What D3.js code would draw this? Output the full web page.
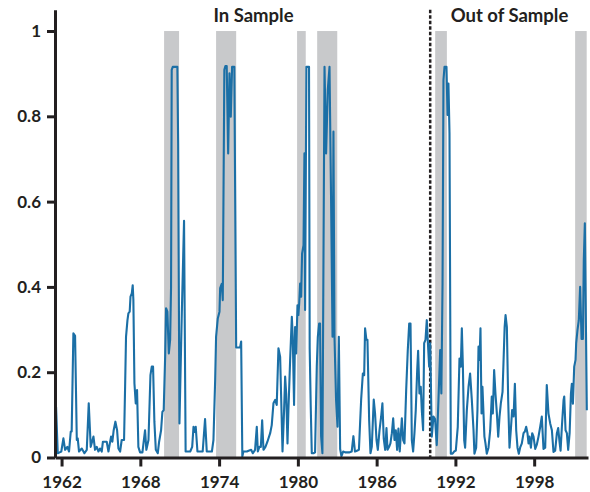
<!DOCTYPE html>
<html>
<head>
<meta charset="utf-8">
<script src="https://cdn.jsdelivr.net/npm/d3@7"></script>
<style>
  html, body { margin: 0; padding: 0; background: #fff; }
  svg { display: block; }
  .tick text { font-family: Lato, "Open Sans", sans-serif; font-weight: 700; font-size: 17px; fill: #231f20; }
</style>
</head>
<body>
<svg id="chart" width="590" height="492"></svg>
<script>
// ---- data ----
const years = [
  1961.58,1961.71,1961.85,1961.98,1962.14,1962.27,1962.44,1962.57,1962.70,1962.77,
  1962.90,1963.03,1963.16,1963.23,1963.33,1963.45,1963.54,1963.74,1963.92,1964.07,
  1964.22,1964.43,1964.55,1964.68,1964.81,1964.93,1965.06,1965.15,1965.26,1965.44,
  1965.57,1965.77,1965.87,1965.97,1966.10,1966.23,1966.33,1966.46,1966.58,1966.76,
  1966.84,1966.91,1967.02,1967.09,1967.19,1967.25,1967.35,1967.42,1967.47,1967.55,
  1967.65,1967.75,1967.85,1967.98,1968.16,1968.36,1968.46,1968.62,1968.77,1968.87,
  1968.97,1969.07,1969.18,1969.33,1969.43,1969.58,1969.68,1969.78,1969.89,1969.96,
  1970.06,1970.17,1970.27,1970.34,1970.39,1970.47,1970.60,1970.72,1970.82,1970.88,
  1970.98,1971.16,1971.33,1971.45,1971.60,1971.80,1971.95,1972.05,1972.13,1972.22,
  1972.35,1972.50,1972.75,1972.93,1973.06,1973.25,1973.45,1973.57,1973.70,1973.77,
  1973.90,1974.03,1974.08,1974.20,1974.28,1974.40,1974.48,1974.58,1974.69,1974.79,
  1974.89,1974.99,1975.07,1975.16,1975.30,1975.45,1975.60,1975.68,1975.77,1975.85,
  1976.00,1976.11,1976.25,1976.44,1976.57,1976.74,1976.87,1976.95,1977.07,1977.18,
  1977.28,1977.38,1977.53,1977.68,1977.89,1978.01,1978.14,1978.27,1978.39,1978.52,
  1978.65,1978.72,1978.83,1978.95,1979.03,1979.11,1979.21,1979.28,1979.41,1979.54,
  1979.61,1979.71,1979.79,1979.87,1979.97,1980.04,1980.10,1980.17,1980.25,1980.32,
  1980.43,1980.50,1980.55,1980.65,1980.78,1980.85,1980.90,1980.98,1981.06,1981.19,
  1981.31,1981.44,1981.52,1981.62,1981.69,1981.77,1981.87,1982.03,1982.15,1982.28,
  1982.41,1982.53,1982.64,1982.71,1982.79,1982.91,1983.02,1983.12,1983.22,1983.32,
  1983.45,1983.60,1983.75,1983.90,1984.10,1984.23,1984.35,1984.50,1984.65,1984.82,
  1984.95,1985.05,1985.12,1985.22,1985.30,1985.43,1985.53,1985.63,1985.78,1985.88,
  1985.99,1986.09,1986.22,1986.34,1986.44,1986.54,1986.65,1986.75,1986.83,1986.95,
  1987.05,1987.16,1987.26,1987.36,1987.46,1987.56,1987.66,1987.76,1987.92,1988.02,
  1988.12,1988.25,1988.37,1988.48,1988.58,1988.68,1988.78,1988.88,1988.98,1989.09,
  1989.16,1989.26,1989.36,1989.44,1989.54,1989.62,1989.72,1989.82,1989.92,1990.00,
  1990.08,1990.20,1990.33,1990.45,1990.58,1990.71,1990.84,1990.93,1991.02,1991.09,
  1991.17,1991.32,1991.40,1991.47,1991.55,1991.65,1991.78,1991.90,1992.03,1992.18,
  1992.31,1992.41,1992.49,1992.57,1992.67,1992.74,1992.87,1993.00,1993.12,1993.25,
  1993.38,1993.45,1993.58,1993.68,1993.76,1993.84,1993.91,1993.99,1994.06,1994.14,
  1994.21,1994.29,1994.39,1994.52,1994.65,1994.77,1994.85,1994.95,1995.05,1995.16,
  1995.26,1995.36,1995.46,1995.59,1995.66,1995.75,1995.82,1995.92,1996.02,1996.12,
  1996.22,1996.32,1996.43,1996.53,1996.63,1996.73,1996.83,1996.93,1997.06,1997.19,
  1997.29,1997.39,1997.49,1997.57,1997.64,1997.75,1997.85,1997.95,1998.08,1998.20,
  1998.33,1998.46,1998.58,1998.71,1998.84,1998.96,1999.09,1999.22,1999.35,1999.47,
  1999.60,1999.73,1999.83,1999.93,2000.01,2000.11,2000.24,2000.29,2000.39,2000.49,
  2000.59,2000.70,2000.80,2000.87,2000.95,2001.05,2001.15,2001.20,2001.30,2001.40,
  2001.50,2001.61,2001.71,2001.78,2001.86,2002.01
];
const probs = [
  0.119,0.010,0.012,0.014,0.045,0.018,0.025,0.014,0.061,0.061,
  0.291,0.285,0.041,0.045,0.014,0.018,0.021,0.010,0.018,0.127,
  0.025,0.049,0.018,0.025,0.014,0.021,0.014,0.037,0.037,0.037,
  0.014,0.049,0.037,0.064,0.084,0.064,0.021,0.014,0.041,0.041,
  0.166,0.283,0.322,0.338,0.342,0.377,0.385,0.404,0.369,0.174,
  0.127,0.158,0.025,0.012,0.012,0.064,0.018,0.041,0.193,0.213,
  0.213,0.084,0.018,0.010,0.037,0.064,0.107,0.111,0.236,0.350,
  0.342,0.244,0.276,0.400,0.909,0.916,0.916,0.916,0.916,0.737,
  0.080,0.338,0.555,0.014,0.014,0.014,0.025,0.072,0.060,0.072,
  0.014,0.014,0.014,0.090,0.014,0.014,0.014,0.041,0.182,0.283,
  0.326,0.342,0.397,0.407,0.369,0.909,0.918,0.918,0.713,0.901,
  0.799,0.916,0.916,0.916,0.258,0.258,0.258,0.272,0.002,0.014,
  0.014,0.014,0.016,0.018,0.010,0.018,0.072,0.014,0.025,0.025,
  0.087,0.018,0.025,0.037,0.057,0.076,0.127,0.135,0.123,0.256,
  0.236,0.150,0.014,0.111,0.190,0.150,0.033,0.111,0.228,0.330,
  0.283,0.123,0.306,0.244,0.357,0.334,0.361,0.408,0.377,0.478,
  0.498,0.713,0.346,0.916,0.916,0.916,0.256,0.119,0.010,0.010,
  0.012,0.213,0.283,0.314,0.314,0.050,0.010,0.916,0.713,0.862,
  0.916,0.604,0.283,0.764,0.283,0.135,0.072,0.283,0.020,0.003,
  0.014,0.012,0.012,0.012,0.014,0.050,0.014,0.016,0.018,0.136,
  0.197,0.193,0.303,0.276,0.276,0.088,0.010,0.025,0.136,0.103,
  0.041,0.018,0.064,0.095,0.127,0.045,0.018,0.069,0.018,0.025,
  0.033,0.057,0.092,0.041,0.064,0.018,0.068,0.014,0.092,0.041,
  0.033,0.158,0.250,0.314,0.314,0.041,0.014,0.057,0.111,0.205,
  0.250,0.150,0.166,0.111,0.064,0.268,0.276,0.322,0.260,0.213,
  0.268,0.049,0.096,0.090,0.029,0.135,0.252,0.150,0.408,0.885,
  0.916,0.916,0.803,0.877,0.760,0.009,0.009,0.014,0.016,0.072,
  0.232,0.213,0.303,0.213,0.040,0.023,0.111,0.166,0.197,0.135,
  0.064,0.009,0.023,0.112,0.260,0.229,0.303,0.103,0.166,0.103,
  0.049,0.033,0.009,0.023,0.064,0.143,0.103,0.205,0.150,0.103,
  0.049,0.096,0.127,0.154,0.220,0.306,0.334,0.306,0.135,0.023,
  0.064,0.111,0.096,0.173,0.064,0.023,0.009,0.023,0.033,0.057,
  0.061,0.072,0.057,0.033,0.049,0.023,0.057,0.049,0.020,0.030,
  0.049,0.072,0.096,0.020,0.023,0.170,0.103,0.080,0.064,0.013,
  0.016,0.057,0.069,0.037,0.016,0.072,0.135,0.143,0.064,0.057,
  0.018,0.057,0.150,0.173,0.126,0.213,0.229,0.268,0.299,0.322,
  0.400,0.278,0.278,0.463,0.549,0.111
];
const recessionStart = [1969.81, 1973.77, 1979.94, 1981.47, 1990.46, 2001.12];
const recessionEnd   = [1970.95, 1975.30, 1980.60, 1983.00, 1991.35, 2002.00];
const sampleSplit = 1990.08;
const xTickValues = [1962, 1968, 1974, 1980, 1986, 1992, 1998];
const yTickValues = [0, 0.2, 0.4, 0.6, 0.8, 1];
const labels = [
  { text: "In Sample", year: 1976.62 },
  { text: "Out of Sample", year: 1996.12 }
];

// ---- drawing ----
const svg = d3.select("#chart");
const x = d3.scaleLinear().domain([1961.5, 2002.1]).range([55, 588]);
const y = d3.scaleLinear().domain([0, 1.05]).range([457.5, 9.7]);

// recession shading
svg.append("g").selectAll("rect")
  .data(recessionStart.map((s, i) => [s, recessionEnd[i]]))
  .join("rect")
  .attr("x", d => x(d[0]))
  .attr("width", d => x(d[1]) - x(d[0]))
  .attr("y", y(1))
  .attr("height", y(0) - y(1))
  .attr("fill", "#c8c9cb");

// split line
svg.append("line")
  .attr("x1", x(sampleSplit)).attr("x2", x(sampleSplit))
  .attr("y1", y(1.05)).attr("y2", y(0))
  .attr("stroke", "#231f20")
  .attr("stroke-width", 2.5)
  .attr("stroke-dasharray", "3.5,2");

// series line
const pts = years.map((yr, i) => [yr, probs[i]]);
svg.append("path")
  .datum(pts)
  .attr("fill", "none")
  .attr("stroke", "#1b6fa6")
  .attr("stroke-width", 2.1)
  .attr("stroke-linejoin", "round")
  .attr("d", d3.line().x(d => x(d[0])).y(d => y(d[1])));

// axes
const yAxis = svg.append("g")
  .attr("transform", "translate(55,0)")
  .call(d3.axisLeft(y).tickValues(yTickValues).tickFormat(d3.format("~g"))
    .tickSize(8).tickSizeOuter(0).tickPadding(6));
const xAxis = svg.append("g")
  .attr("transform", `translate(0,${y(0)})`)
  .call(d3.axisBottom(x).tickValues(xTickValues).tickFormat(d3.format("d"))
    .tickSize(9).tickSizeOuter(0).tickPadding(9));
[yAxis, xAxis].forEach(g => {
  g.select(".domain").attr("stroke", "#231f20").attr("stroke-width", 3);
  g.selectAll(".tick line").attr("stroke", "#231f20").attr("stroke-width", 3);
});

// section labels
svg.append("g").selectAll("text")
  .data(labels)
  .join("text")
  .attr("x", d => x(d.year))
  .attr("y", 22)
  .attr("text-anchor", "middle")
  .style("font-family", "Lato, 'Open Sans', sans-serif")
  .style("font-weight", 700)
  .style("font-size", "18.5px")
  .style("fill", "#231f20")
  .text(d => d.text);
</script>
</body>
</html>
